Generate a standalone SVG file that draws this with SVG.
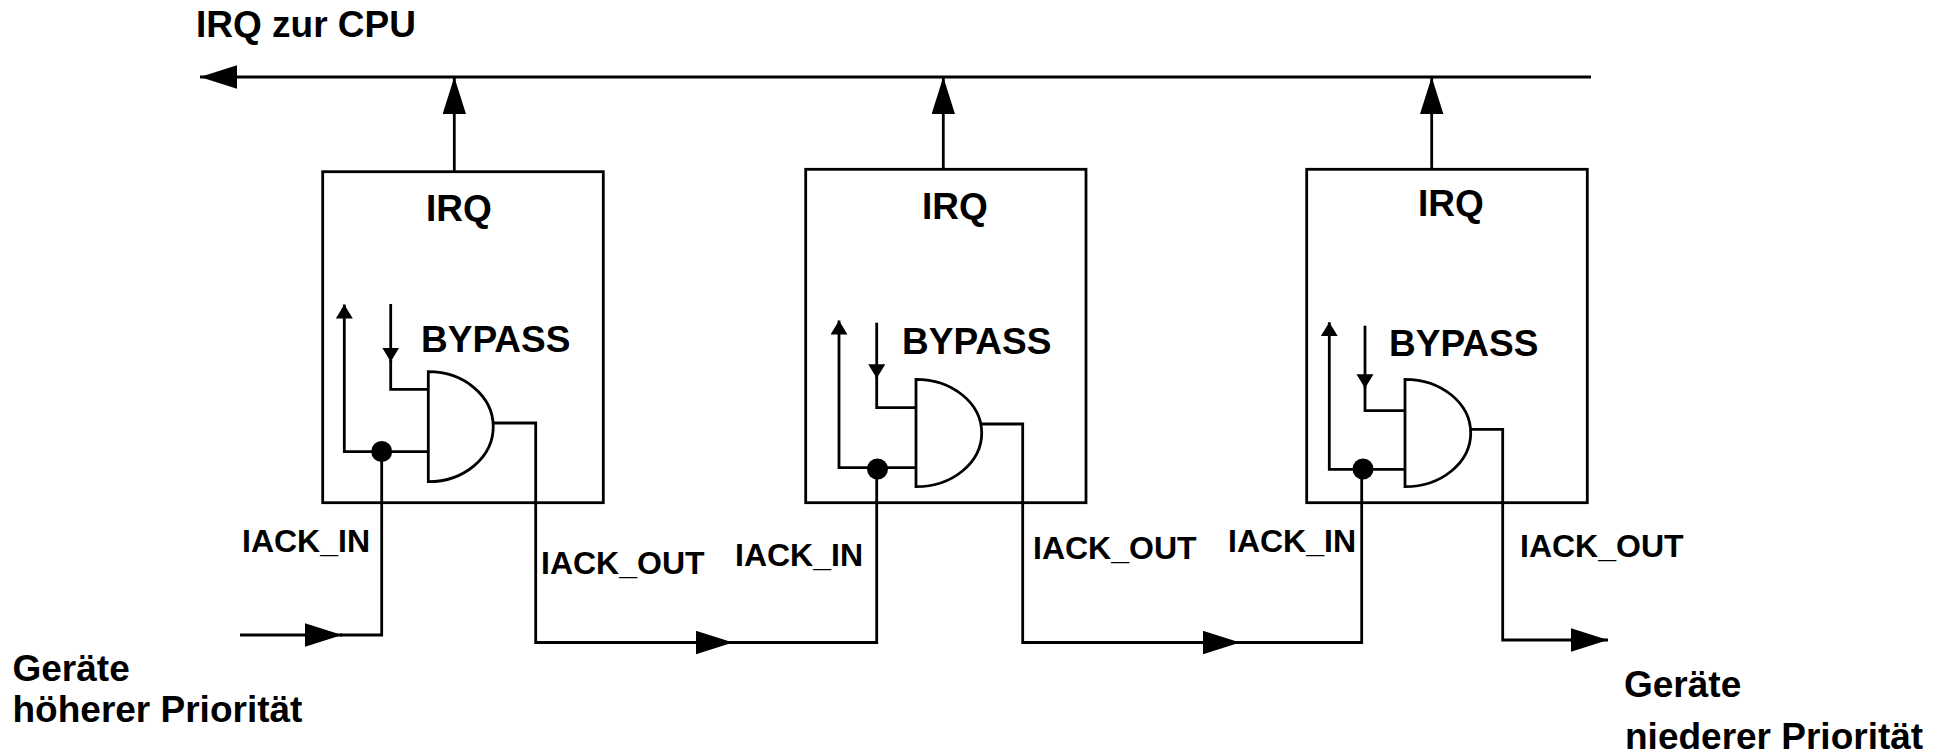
<svg xmlns="http://www.w3.org/2000/svg" width="1948" height="755" viewBox="0 0 1948 755">
<style>
  .ln { fill: none; stroke: #000; stroke-width: 2.8; stroke-linejoin: miter; }
  .box { fill: #fff; stroke: #000; stroke-width: 2.8; }
  .gate { fill: #fff; stroke: #000; stroke-width: 2.8; }
  .big { font-family: "Liberation Sans", Arial, sans-serif; font-weight: bold; font-size: 37px; fill: #000; }
  .lbl { font-family: "Liberation Sans", Arial, sans-serif; font-weight: bold; font-size: 32px; fill: #000; }
  .dot { fill: #000; }
</style>
<defs>
  <marker id="arr" markerUnits="userSpaceOnUse" markerWidth="38" markerHeight="24" refX="37" refY="11.7" orient="auto">
    <path d="M0,0 L37,11.7 L0,23.4 Z" fill="#000"/>
  </marker>
  <marker id="sarr" markerUnits="userSpaceOnUse" markerWidth="15" markerHeight="18" refX="14" refY="8.5" orient="auto">
    <path d="M0,0 L14,8.5 L0,17 Z" fill="#000"/>
  </marker>
</defs>
<rect width="1948" height="755" fill="#fff"/>

<text class="big" x="196" y="37">IRQ zur CPU</text>

<g id="device1">
  <rect class="box" x="322.7" y="171.7" width="280.6" height="331"/>
  <text class="big" x="426" y="220.7">IRQ</text>
  <text class="big" x="421" y="351.7">BYPASS</text>
  <path class="ln" d="M381.7,451.7 H344.3 V304.5" marker-end="url(#sarr)"/>
  <path class="ln" d="M390.7,304 V361.7" marker-end="url(#sarr)"/>
  <path class="ln" d="M390.7,360 V389.3 H428.3"/>
  <path class="ln" d="M381.7,451.7 H428.3"/>
  <path class="gate" d="M428.3,371.7 A65,55 0 0 1 428.3,481.7 Z"/>
  <circle class="dot" cx="381.7" cy="451.5" r="10.5"/>
</g>

<g id="device2">
  <rect class="box" x="805.7" y="169.3" width="280.3" height="333.4"/>
  <text class="big" x="922" y="219.3">IRQ</text>
  <text class="big" x="902" y="354">BYPASS</text>
  <path class="ln" d="M876.7,467.7 H839 V320.5" marker-end="url(#sarr)"/>
  <path class="ln" d="M876.7,322.7 V378.3" marker-end="url(#sarr)"/>
  <path class="ln" d="M876.7,376.5 V407.7 H916"/>
  <path class="ln" d="M876.7,467.7 H916"/>
  <path class="gate" d="M916,379.3 A65.7,53.7 0 0 1 916,486.7 Z"/>
  <circle class="dot" cx="877.5" cy="469" r="10.5"/>
</g>

<g id="device3">
  <rect class="box" x="1306.7" y="169.3" width="280.6" height="333.4"/>
  <text class="big" x="1418" y="215.7">IRQ</text>
  <text class="big" x="1389" y="356">BYPASS</text>
  <path class="ln" d="M1361.7,469.3 H1329.3 V322.2" marker-end="url(#sarr)"/>
  <path class="ln" d="M1365,325.7 V388.3" marker-end="url(#sarr)"/>
  <path class="ln" d="M1365,386.5 V410.7 H1405"/>
  <path class="ln" d="M1361.7,469.3 H1405"/>
  <path class="gate" d="M1405,379.3 A65.7,53.7 0 0 1 1405,486.7 Z"/>
  <circle class="dot" cx="1363" cy="469" r="10.5"/>
</g>

<g id="connectors">
  <path class="ln" d="M1591,77 H200" marker-end="url(#arr)"/>
  <path class="ln" d="M454.3,171.7 V77" marker-end="url(#arr)"/>
  <path class="ln" d="M943.3,169.3 V77" marker-end="url(#arr)"/>
  <path class="ln" d="M1431.7,169.3 V77" marker-end="url(#arr)"/>

  <path class="ln" d="M240,635 H342" marker-end="url(#arr)"/>
  <path class="ln" d="M340,635 H381.7 V451.7"/>

  <path class="ln" d="M493.3,423 H535.7 V642.5 H733" marker-end="url(#arr)"/>
  <path class="ln" d="M731,642.5 H876.7 V467.7"/>

  <path class="ln" d="M981.7,424 H1022.7 V642.5 H1240" marker-end="url(#arr)"/>
  <path class="ln" d="M1238,642.5 H1361.7 V469.3"/>

  <path class="ln" d="M1470.7,429.3 H1502.7 V640 H1608" marker-end="url(#arr)"/>
</g>

<g id="labels">
  <text class="lbl" x="242" y="552">IACK_IN</text>
  <text class="lbl" x="541" y="573.5">IACK_OUT</text>
  <text class="lbl" x="735" y="566">IACK_IN</text>
  <text class="lbl" x="1033" y="558.5">IACK_OUT</text>
  <text class="lbl" x="1228" y="552">IACK_IN</text>
  <text class="lbl" x="1520" y="557">IACK_OUT</text>
  <text class="big" x="12.5" y="681">Geräte</text>
  <text class="big" x="12.5" y="722">höherer Priorität</text>
  <text class="big" x="1624" y="697">Geräte</text>
  <text class="big" x="1625" y="749">niederer Priorität</text>
</g>
</svg>
